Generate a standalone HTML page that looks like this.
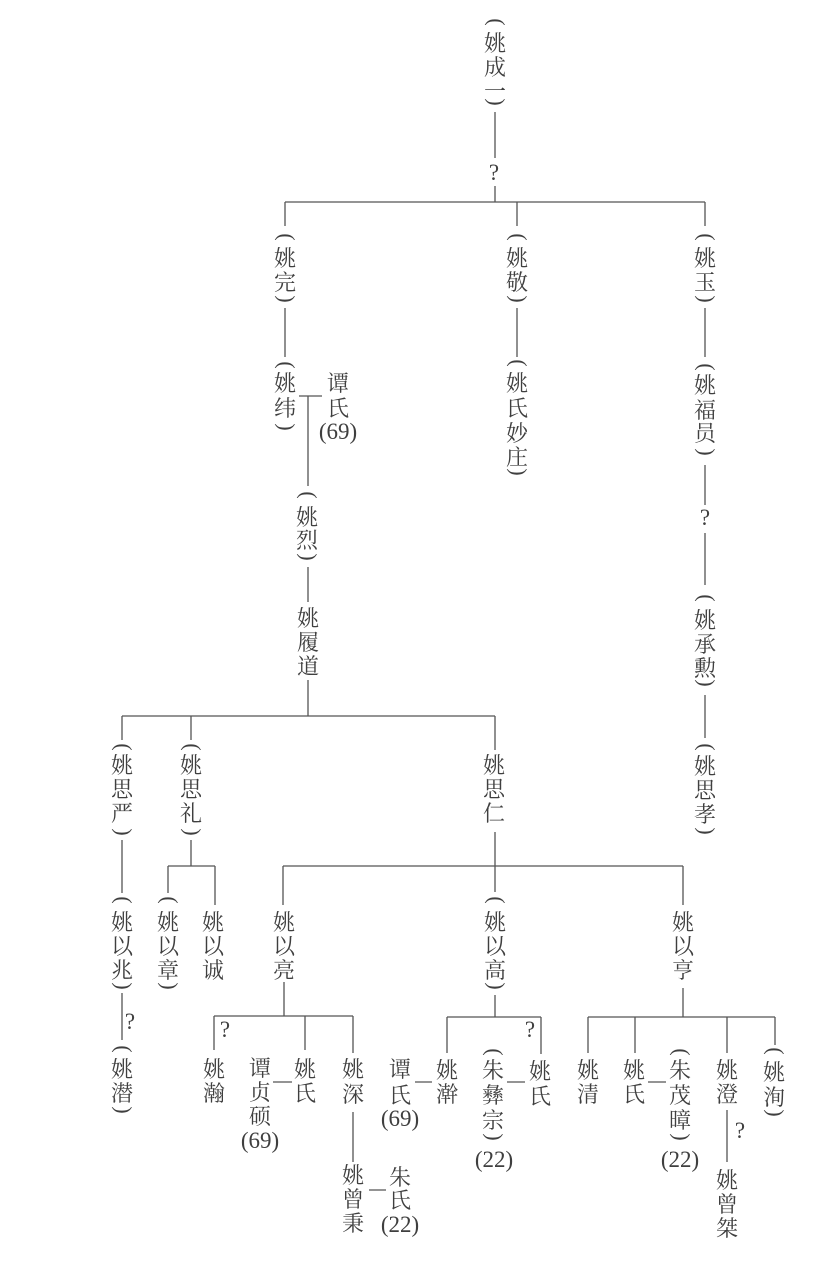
<!DOCTYPE html>
<html lang="zh"><head><meta charset="utf-8"><style>
html,body{margin:0;padding:0;background:#fff}
svg{display:block;filter:blur(.35px)}
text{font-family:"Liberation Serif","Noto Serif CJK SC",serif;font-size:22px;fill:#3f3f3f;text-anchor:middle}
.n{font-size:23px}
path{stroke:#555;stroke-width:1.3;fill:none}
</style></head><body>
<svg width="822" height="1262" viewBox="0 0 822 1262" xmlns="http://www.w3.org/2000/svg">
<path d="M495 112V158M495 186V202M285 202H705M285 202V226M517 202V226M705 202V226
M285 308V357M517 308V357M705 308V357
M299 396H322M308 396V486M308 567V602M308 680V716M122 716H495M122 716V740M191 716V740M495 716V750
M705 465V505M705 533V585M705 695V738
M122 840V893M122 993V1040M191 840V866M168 866H215M168 866V893M215 866V905
M495 832V892M283 866H683M283 866V905M683 866V905
M284 982V1016M214 1016H353M214 1016V1050M305 1016V1050M353 1016V1053
M273 1082H292M353 1112V1162M369 1190H386
M495 995V1017M447 1017H541M447 1017V1053M541 1017V1054M415 1082H432M507 1082H525
M683 988V1017M588 1017H775M588 1017V1053M635 1017V1053M727 1017V1053M775 1017V1045M648 1082H666M727 1110V1162"/>
<!-- top -->
<text transform="translate(489.5,22) rotate(90)">(</text><text x="495" y="51">姚</text><text x="495" y="75">成</text><text x="495" y="99">一</text><text transform="translate(489.5,102) rotate(90)">)</text>
<text class="n" x="494" y="180">?</text>
<text transform="translate(279.5,237) rotate(90)">(</text><text x="285" y="266">姚</text><text x="285" y="290">完</text><text transform="translate(279.5,299) rotate(90)">)</text>
<text transform="translate(511.5,237) rotate(90)">(</text><text x="517" y="266">姚</text><text x="517" y="290">敬</text><text transform="translate(511.5,299) rotate(90)">)</text>
<text transform="translate(699.5,237) rotate(90)">(</text><text x="705" y="266">姚</text><text x="705" y="290">玉</text><text transform="translate(699.5,299) rotate(90)">)</text>
<text transform="translate(279.5,365) rotate(90)">(</text><text x="285" y="391">姚</text><text x="285" y="416">纬</text><text transform="translate(279.5,427) rotate(90)">)</text>
<text x="338" y="391">谭</text><text x="338" y="416">氏</text><text class="n" x="338" y="439">(69)</text>
<text transform="translate(511.5,363) rotate(90)">(</text><text x="517" y="391">姚</text><text x="517" y="416">氏</text><text x="517" y="441">妙</text><text x="517" y="465">庄</text><text transform="translate(511.5,472) rotate(90)">)</text>
<text transform="translate(699.5,367) rotate(90)">(</text><text x="705" y="393">姚</text><text x="705" y="418">福</text><text x="705" y="441">员</text><text transform="translate(699.5,452) rotate(90)">)</text>
<text class="n" x="705" y="525">?</text>
<text transform="translate(301.5,495) rotate(90)">(</text><text x="307" y="525">姚</text><text x="307" y="548">烈</text><text transform="translate(301.5,557) rotate(90)">)</text>
<text x="308" y="626">姚</text><text x="308" y="650">履</text><text x="308" y="674">道</text>
<text transform="translate(699.5,598) rotate(90)">(</text><text x="705" y="628">姚</text><text x="705" y="652">承</text><text x="705" y="676">勲</text><text transform="translate(699.5,683) rotate(90)">)</text>
<text transform="translate(699.5,747) rotate(90)">(</text><text x="705" y="774">姚</text><text x="705" y="798">思</text><text x="705" y="822">孝</text><text transform="translate(699.5,831) rotate(90)">)</text>
<!-- row 思 -->
<text transform="translate(116.5,747) rotate(90)">(</text><text x="122" y="773">姚</text><text x="122" y="797">思</text><text x="122" y="821">严</text><text transform="translate(116.5,832) rotate(90)">)</text>
<text transform="translate(185.5,747) rotate(90)">(</text><text x="191" y="773">姚</text><text x="191" y="797">思</text><text x="191" y="821">礼</text><text transform="translate(185.5,832) rotate(90)">)</text>
<text x="494" y="773">姚</text><text x="494" y="797">思</text><text x="494" y="821">仁</text>
<!-- row 以 -->
<text transform="translate(116.5,900) rotate(90)">(</text><text x="122" y="930">姚</text><text x="122" y="954">以</text><text x="122" y="978">兆</text><text transform="translate(116.5,986) rotate(90)">)</text>
<text transform="translate(162.5,900) rotate(90)">(</text><text x="168" y="930">姚</text><text x="168" y="954">以</text><text x="168" y="978">章</text><text transform="translate(162.5,986) rotate(90)">)</text>
<text x="213" y="930">姚</text><text x="213" y="954">以</text><text x="213" y="978">诚</text>
<text x="284" y="930">姚</text><text x="284" y="954">以</text><text x="284" y="978">亮</text>
<text transform="translate(489.5,900) rotate(90)">(</text><text x="495" y="930">姚</text><text x="495" y="954">以</text><text x="495" y="978">高</text><text transform="translate(489.5,986) rotate(90)">)</text>
<text x="683" y="930">姚</text><text x="683" y="954">以</text><text x="683" y="978">亨</text>
<text class="n" x="130" y="1029">?</text>
<text transform="translate(116.5,1049) rotate(90)">(</text><text x="122" y="1077">姚</text><text x="122" y="1101">潜</text><text transform="translate(116.5,1110) rotate(90)">)</text>
<text class="n" x="225" y="1037">?</text><text class="n" x="530" y="1037">?</text><text class="n" x="740" y="1138">?</text>
<!-- bottom -->
<text x="214" y="1077">姚</text><text x="214" y="1101">瀚</text>
<text x="260" y="1076">谭</text><text x="260" y="1100">贞</text><text x="260" y="1124">硕</text><text class="n" x="260" y="1148">(69)</text>
<text x="305" y="1077">姚</text><text x="305" y="1101">氏</text>
<text x="353" y="1077">姚</text><text x="353" y="1102">深</text>
<text x="353" y="1183">姚</text><text x="353" y="1207">曾</text><text x="353" y="1231">秉</text>
<text x="400" y="1185">朱</text><text x="400" y="1208">氏</text><text class="n" x="400" y="1232">(22)</text>
<text x="400" y="1077">谭</text><text x="400" y="1103">氏</text><text class="n" x="400" y="1126">(69)</text>
<text x="447" y="1078">姚</text><text x="447" y="1102">澣</text>
<text transform="translate(487.5,1052) rotate(90)">(</text><text x="493" y="1078">朱</text><text x="493" y="1103">彝</text><text x="493" y="1128">宗</text><text transform="translate(487.5,1137) rotate(90)">)</text><text class="n" x="494" y="1167">(22)</text>
<text x="540" y="1079">姚</text><text x="540" y="1104">氏</text>
<text x="588" y="1078">姚</text><text x="588" y="1102">清</text>
<text x="634" y="1078">姚</text><text x="634" y="1102">氏</text>
<text transform="translate(674.5,1052) rotate(90)">(</text><text x="680" y="1078">朱</text><text x="680" y="1103">茂</text><text x="680" y="1128">暲</text><text transform="translate(674.5,1137) rotate(90)">)</text><text class="n" x="680" y="1167">(22)</text>
<text x="727" y="1078">姚</text><text x="727" y="1102">澄</text>
<text x="727" y="1188">姚</text><text x="727" y="1212">曾</text><text x="727" y="1236">桀</text>
<text transform="translate(768.5,1051) rotate(90)">(</text><text x="774" y="1080">姚</text><text x="774" y="1105">洵</text><text transform="translate(768.5,1113) rotate(90)">)</text>
</svg>
</body></html>
